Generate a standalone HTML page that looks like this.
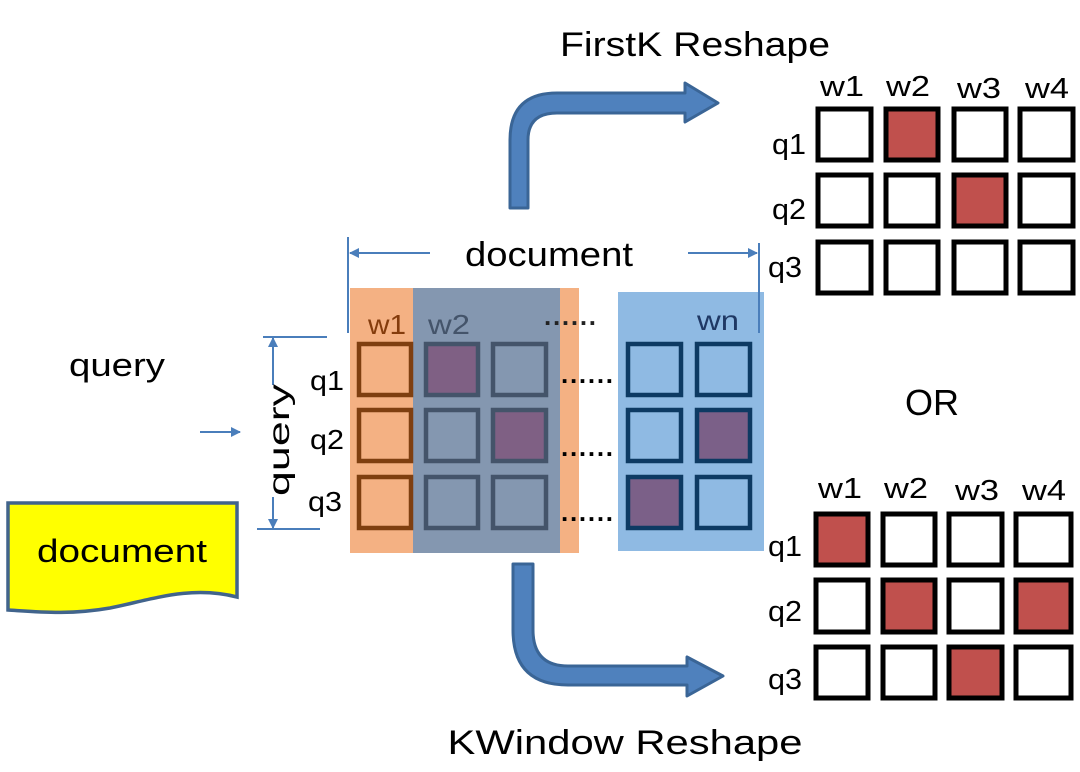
<!DOCTYPE html>
<html><head><meta charset="utf-8"><style>
html,body{margin:0;padding:0;background:#fff;}
svg{display:block;}
text{font-family:"Liberation Sans",sans-serif;fill:#000;}
</style></head><body>
<svg width="1080" height="772" viewBox="0 0 1080 772" xmlns="http://www.w3.org/2000/svg">
<defs>
<marker id="ah" markerWidth="10" markerHeight="10" refX="9" refY="5" orient="auto" markerUnits="userSpaceOnUse"><path d="M0,0 L10,5 L0,10 Z" fill="#4A7EBB"/></marker>
</defs>
<text x="695" y="56" font-size="34" text-anchor="middle" textLength="270" lengthAdjust="spacingAndGlyphs">FirstK Reshape</text>
<text x="625" y="754" font-size="34" text-anchor="middle" textLength="355" lengthAdjust="spacingAndGlyphs">KWindow Reshape</text>
<text x="932" y="415" font-size="36" text-anchor="middle">OR</text>

<path d="M510,208 L510,140 Q510,93 557,93 L685,93 L685,83 L718,103 L685,122 L685,113 L557,113 Q528,113 528,140 L528,208 Z" fill="#4F81BD" stroke="#3A6596" stroke-width="3" stroke-linejoin="round"/>
<path d="M513,564 L513,630 Q513,685 568,685 L687,685 L687,696 L723,676 L687,657 L687,666 L568,666 Q533,666 533,630 L533,564 Z" fill="#4F81BD" stroke="#3A6596" stroke-width="3" stroke-linejoin="round"/>

<text x="117" y="376" font-size="32" text-anchor="middle" textLength="96" lengthAdjust="spacingAndGlyphs">query</text>
<line x1="200" y1="432" x2="240" y2="432" stroke="#4A7EBB" stroke-width="2" marker-end="url(#ah)"/>
<path d="M8,503 L237,503 L237,597 C190,585 150,600 110,608 C70,615 40,612 8,610 Z" fill="#FFFF00" stroke="#41648C" stroke-width="3.5"/>
<text x="122" y="562" font-size="32" text-anchor="middle" textLength="170" lengthAdjust="spacingAndGlyphs">document</text>

<line x1="263" y1="337" x2="327" y2="337" stroke="#4A7EBB" stroke-width="2"/>
<line x1="257" y1="529" x2="320" y2="529" stroke="#4A7EBB" stroke-width="2"/>
<line x1="273" y1="385" x2="273" y2="338" stroke="#4A7EBB" stroke-width="2" marker-end="url(#ah)"/>
<line x1="273" y1="497" x2="273" y2="528" stroke="#4A7EBB" stroke-width="2" marker-end="url(#ah)"/>
<text transform="translate(289,440) rotate(-90)" font-size="30" text-anchor="middle" textLength="112" lengthAdjust="spacingAndGlyphs">query</text>
<g font-size="28">
<text x="310" y="390" textLength="34" lengthAdjust="spacingAndGlyphs">q1</text>
<text x="310" y="449" textLength="34" lengthAdjust="spacingAndGlyphs">q2</text>
<text x="308" y="511" textLength="34" lengthAdjust="spacingAndGlyphs">q3</text>
</g>

<line x1="348" y1="237" x2="348" y2="333" stroke="#4A7EBB" stroke-width="2"/>
<line x1="759" y1="243" x2="759" y2="333" stroke="#4A7EBB" stroke-width="2"/>
<line x1="430" y1="253" x2="350" y2="253" stroke="#4A7EBB" stroke-width="2" marker-end="url(#ah)"/>
<line x1="688" y1="253" x2="757" y2="253" stroke="#4A7EBB" stroke-width="2" marker-end="url(#ah)"/>
<text x="549" y="266" font-size="34" text-anchor="middle" textLength="168" lengthAdjust="spacingAndGlyphs">document</text>

<rect x="350" y="288" width="229" height="265" fill="#F4B183"/>
<rect x="413" y="288" width="147" height="265" fill="#8497B0"/>
<rect x="618" y="292" width="146" height="259" fill="#8FBAE3"/>
<line x1="759" y1="292" x2="759" y2="333" stroke="#4A7EBB" stroke-width="2"/>
<text x="368" y="334" font-size="28" textLength="38" lengthAdjust="spacingAndGlyphs" style="fill:#843C0C">w1</text>
<text x="428" y="334" font-size="28" textLength="42" lengthAdjust="spacingAndGlyphs" style="fill:#44546A">w2</text>
<text x="697" y="330" font-size="28" textLength="42" lengthAdjust="spacingAndGlyphs" style="fill:#1F3864">wn</text>
<g font-size="26" font-weight="bold">
<text x="544" y="325" textLength="52" lengthAdjust="spacing" style="fill:#222">......</text>
<text x="561" y="383" textLength="52" lengthAdjust="spacing">......</text>
<text x="561" y="456" textLength="52" lengthAdjust="spacing">......</text>
<text x="561" y="521" textLength="52" lengthAdjust="spacing">......</text>
</g>

<g stroke-width="4.5">
<rect x="359" y="344" width="52" height="51" fill="#F4B183" stroke="#7F3F10"/>
<rect x="359" y="410" width="52" height="51" fill="#F4B183" stroke="#7F3F10"/>
<rect x="359" y="477" width="52" height="51" fill="#F4B183" stroke="#7F3F10"/>
<rect x="426" y="344" width="52" height="51" fill="#7F6084" stroke="#44546A"/>
<rect x="426" y="410" width="52" height="51" fill="#8497B0" stroke="#44546A"/>
<rect x="426" y="477" width="52" height="51" fill="#8497B0" stroke="#44546A"/>
<rect x="493" y="344" width="53" height="51" fill="#8497B0" stroke="#44546A"/>
<rect x="493" y="410" width="53" height="51" fill="#7F6084" stroke="#44546A"/>
<rect x="493" y="477" width="53" height="51" fill="#8497B0" stroke="#44546A"/>
<rect x="628" y="344" width="53" height="51" fill="#8FBAE3" stroke="#0D3A63"/>
<rect x="628" y="410" width="53" height="51" fill="#8FBAE3" stroke="#0D3A63"/>
<rect x="628" y="477" width="53" height="51" fill="#7B6088" stroke="#0D3A63"/>
<rect x="697" y="344" width="53" height="51" fill="#8FBAE3" stroke="#0D3A63"/>
<rect x="697" y="410" width="53" height="51" fill="#7B6088" stroke="#0D3A63"/>
<rect x="697" y="477" width="53" height="51" fill="#8FBAE3" stroke="#0D3A63"/>
</g>

<g font-size="29">
<text x="820" y="96" textLength="44" lengthAdjust="spacingAndGlyphs">w1</text><text x="886" y="96" textLength="44" lengthAdjust="spacingAndGlyphs">w2</text><text x="957" y="98" textLength="44" lengthAdjust="spacingAndGlyphs">w3</text><text x="1025" y="98" textLength="44" lengthAdjust="spacingAndGlyphs">w4</text>
<text x="772" y="154" textLength="34" lengthAdjust="spacingAndGlyphs">q1</text><text x="772" y="219" textLength="34" lengthAdjust="spacingAndGlyphs">q2</text><text x="768" y="277" textLength="34" lengthAdjust="spacingAndGlyphs">q3</text>
</g>
<g stroke="#000" stroke-width="5" fill="#fff">
<rect x="818" y="109" width="53" height="51"/><rect x="886" y="109" width="52" height="51" fill="#C0504D"/><rect x="954" y="109" width="52" height="51"/><rect x="1020" y="109" width="53" height="51"/>
<rect x="818" y="175" width="53" height="51"/><rect x="886" y="175" width="52" height="51"/><rect x="954" y="175" width="52" height="51" fill="#C0504D"/><rect x="1020" y="175" width="53" height="51"/>
<rect x="818" y="242" width="53" height="51"/><rect x="886" y="242" width="52" height="51"/><rect x="954" y="242" width="52" height="51"/><rect x="1020" y="242" width="53" height="51"/>
</g>

<g font-size="29">
<text x="818" y="498" textLength="44" lengthAdjust="spacingAndGlyphs">w1</text><text x="884" y="498" textLength="44" lengthAdjust="spacingAndGlyphs">w2</text><text x="955" y="500" textLength="44" lengthAdjust="spacingAndGlyphs">w3</text><text x="1022" y="500" textLength="44" lengthAdjust="spacingAndGlyphs">w4</text>
<text x="768" y="556" textLength="34" lengthAdjust="spacingAndGlyphs">q1</text><text x="768" y="621" textLength="34" lengthAdjust="spacingAndGlyphs">q2</text><text x="768" y="689" textLength="34" lengthAdjust="spacingAndGlyphs">q3</text>
</g>
<g stroke="#000" stroke-width="5" fill="#fff">
<rect x="816" y="514" width="52" height="51" fill="#C0504D"/><rect x="883" y="514" width="52" height="51"/><rect x="949" y="514" width="53" height="51"/><rect x="1016" y="514" width="55" height="51"/>
<rect x="816" y="580" width="52" height="52"/><rect x="883" y="580" width="52" height="52" fill="#C0504D"/><rect x="949" y="580" width="53" height="52"/><rect x="1016" y="580" width="55" height="52" fill="#C0504D"/>
<rect x="816" y="647" width="52" height="51"/><rect x="883" y="647" width="52" height="51"/><rect x="949" y="647" width="53" height="51" fill="#C0504D"/><rect x="1016" y="647" width="55" height="51"/>
</g>
</svg>
</body></html>
